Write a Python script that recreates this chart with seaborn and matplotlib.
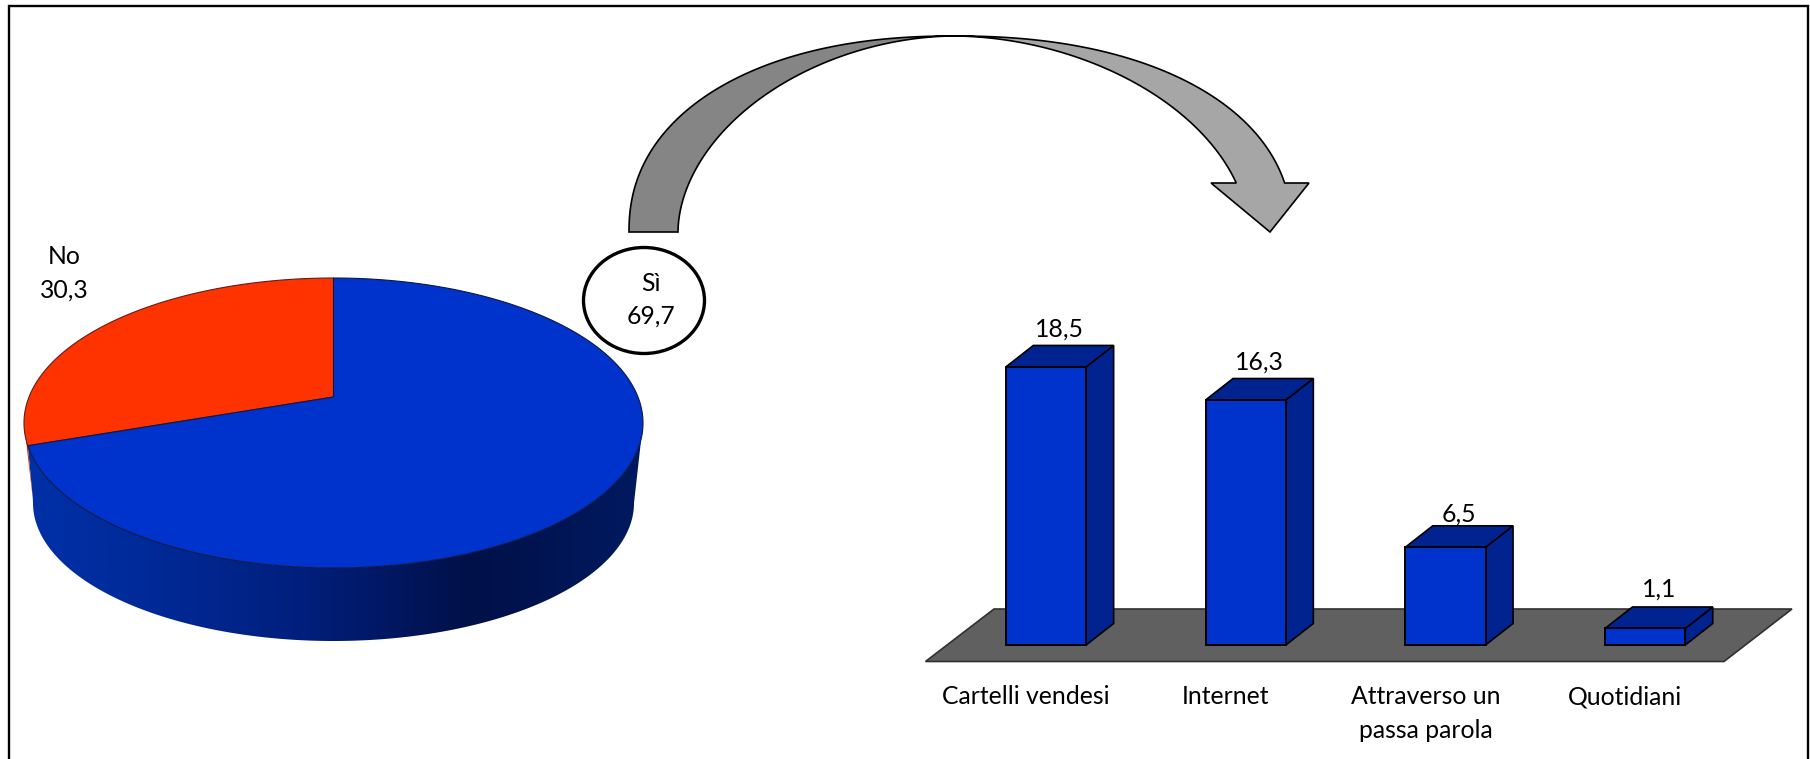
import numpy as np
import pandas as pd
import seaborn as sns
import matplotlib
matplotlib.use("Agg")
import matplotlib.pyplot as plt
from matplotlib.colors import LinearSegmentedColormap
from matplotlib.patches import Polygon, Ellipse
from matplotlib.transforms import ScaledTranslation

# ---- data ----
pie_labels = ["No", "Sì"]
pie_values = [30.3, 69.7]
bar_categories = ["Cartelli vendesi", "Internet", "Attraverso un\npassa parola", "Quotidiani"]
bar_values = [18.5, 16.3, 6.5, 1.1]

# ---- style ----
BLUE, BLUE_DARK, RED = "#0033CC", "#00238F", "#FF3300"
FONT = "Lato"
FS = 17.8
W, H = 1810, 759
label_lift = [38, 38, 33, 39]   # px above the front top edge of each bar

sns.set_theme(style="white")
plt.rcParams["font.family"] = [FONT, "DejaVu Sans"]
fmt = lambda v: f"{v:.1f}".replace(".", ",")

fig = plt.figure(figsize=(W / 100, H / 100), dpi=100, facecolor="white")
base = fig.add_axes([0, 0, 1, 1])
base.set_axis_off()

# ---- frame ----
base.plot([8.5, 8.5, 1807.5, 1807.5], [H + 5, 6, 6, H + 5], color="black", lw=1.7,
          solid_joinstyle="miter", zorder=1)

# ---- 3D pie ----
cx, cy, a, b = 333.5, 423.0, 309.5, 145.0      # top ellipse
cy2, a2, b2 = 503.0, 300.5, 138.0              # bottom ellipse
Y0 = (cy - 397.0) / b                          # perspective shift of the pie centre


def project(theta):
    """theta: angle measured counter-clockwise from 12 o'clock on the true circle."""
    u, v = -np.sin(theta), np.cos(theta)
    d = 1 + v * Y0
    return cx + a * u * np.sqrt(1 - Y0 ** 2) / d, cy - b * (v + Y0) / d


t_no = 2 * np.pi * pie_values[0] / sum(pie_values)
bx, by = project(t_no)
apex = (cx, cy - b * Y0)

# side: gradient clipped to outline
phi_start = np.pi - np.arcsin(np.clip((by - cy) / b, -1, 1))
phi = np.linspace(phi_start, 0, 200)
top_lower = np.c_[cx + a * np.cos(phi), cy + b * np.sin(phi)]
phi2 = np.linspace(0, np.pi, 300)
bot_lower = np.c_[cx + a2 * np.cos(phi2), cy2 + b2 * np.sin(phi2)]
edge_bottom = (bx + 5, by + 53)
side = np.vstack([top_lower, bot_lower, [edge_bottom], [[bx, by]]])
cmap = LinearSegmentedColormap.from_list(
    "side",
    [(0.0, "#0030A8"), (0.2, "#002A98"), (0.45, "#001F7C"), (0.72, "#001048"), (1.0, "#001A60")],
)
im = base.imshow(np.linspace(0, 1, 512)[None, :], extent=(cx - a, cx + a, cy2 + b2 + 2, cy - 10),
                 cmap=cmap, aspect="auto", zorder=2)
clip = Polygon(side, closed=True, transform=base.transData, fc="none", ec="none")
base.add_patch(clip)
im.set_clip_path(clip)

# red sliver on the left of the side wall
phi3 = np.linspace(np.pi, phi_start, 30)
sliver = np.vstack([np.c_[cx + a * np.cos(phi3), cy + b * np.sin(phi3)], [edge_bottom]])
base.add_patch(Polygon(sliver, closed=True, fc="#C02800", ec="none", zorder=2))

# top face wedges
t = np.linspace(0, t_no, 200)
x, y = project(t)
base.add_patch(Polygon(np.vstack([np.c_[x, y], [apex]]), closed=True, fc=RED, ec="#5A2020", lw=0.8, zorder=3))
t = np.linspace(t_no, 2 * np.pi, 400)
x, y = project(t)
base.add_patch(Polygon(np.vstack([np.c_[x, y], [apex]]), closed=True, fc=BLUE, ec="#101840", lw=0.8, zorder=4))

# pie labels
base.text(64, 257, pie_labels[0], ha="center", va="center", fontsize=FS, color="black", zorder=6)
base.text(64, 290.5, fmt(pie_values[0]), ha="center", va="center", fontsize=FS, color="black", zorder=6)
base.add_patch(Ellipse((644, 300.5), 121, 106, fc="white", ec="black", lw=2.4, zorder=5))
base.text(651, 283.5, pie_labels[1], ha="center", va="center", fontsize=FS, color="black", zorder=6)
base.text(651, 316, fmt(pie_values[1]), ha="center", va="center", fontsize=FS, color="black", zorder=6)

# ---- curved arrow (superelliptic arcs) ----
ax0, ay0, ay_top = 954.0, 232.0, 36.0
lh = ay0 - ay_top


def arc(semi_x, n, s):
    c, sn = np.cos(s), np.sin(s)
    return semi_x * np.abs(c) ** (2 / n), ay0 - lh * np.abs(sn) ** (2 / n)


s = np.linspace(0, np.pi / 2, 200)
ox, oy = arc(325, 2.2, s)
ix, iy = arc(276, 1.88, s)
base.add_patch(Polygon(np.vstack([np.c_[ax0 - ox, oy], np.c_[ax0 - ix, iy][::-1]]), closed=True,
                       fc="#858585", ec="black", lw=1.2, zorder=3))
frac = (ay0 - 183) / lh
s_o = np.linspace(np.pi / 2, np.arcsin(frac ** (2.2 / 2)), 200)
s_i = np.linspace(np.pi / 2, np.arcsin(frac ** (1.88 / 2)), 200)
ox, oy = arc(338, 2.2, s_o)
ix, iy = arc(294, 1.88, s_i)
head = [[1309, 183], [1270, 232], [1211, 183]]
base.add_patch(Polygon(np.vstack([np.c_[ax0 + ox, oy], head, np.c_[ax0 + ix, iy][::-1]]), closed=True,
                       fc="#A6A6A6", ec="black", lw=1.2, zorder=3))

# ---- floor ----
base.add_patch(Polygon([[925.5, 661.5], [1724, 661.5], [1792, 609], [994, 609]], closed=True,
                       fc="#606060", ec="#303030", lw=1.2, zorder=2))
base.set_xlim(0, W)
base.set_ylim(H, 0)

# ---- bars ----
slot = 199.7           # px per category
ppu = 15.03            # px per value unit
x0_px, y0_px = 1046.0, 645.0
ymax = 22
ax = fig.add_axes([(x0_px - slot / 2) / W, (H - y0_px) / H, 4 * slot / W, ymax * ppu / H])
ax.patch.set_alpha(0)
df = pd.DataFrame({"cat": bar_categories, "val": bar_values})
sns.barplot(data=df, x="cat", y="val", ax=ax, color=BLUE, saturation=1, width=0.402,
            edgecolor="black", linewidth=1.4, zorder=4)
ax.set_xlim(-0.5, 3.5)
ax.set_ylim(0, ymax)
ax.set_xlabel("")
ax.set_ylabel("")
ax.set_yticks([])
sns.despine(ax=ax, left=True, bottom=True)
ax.tick_params(axis="x", length=0, pad=29, labelsize=FS, colors="black")

ddx, ddy = 27.5 / slot, 21.5 / ppu
for p, lift in zip(list(ax.patches), label_lift):
    l, r, h = p.get_x(), p.get_x() + p.get_width(), p.get_height()
    p.set_clip_on(False)
    ax.add_patch(Polygon([[r, 0], [r + ddx, ddy], [r + ddx, h + ddy], [r, h]], closed=True,
                         fc=BLUE_DARK, ec="black", lw=1.2, zorder=3, clip_on=False))
    ax.add_patch(Polygon([[l, h], [r, h], [r + ddx, h + ddy], [l + ddx, h + ddy]], closed=True,
                         fc=BLUE_DARK, ec="black", lw=1.2, zorder=3, clip_on=False))
    ax.annotate(fmt(h), xy=((l + r) / 2, h), xytext=(13.6 * 0.72, lift * 0.72), textcoords="offset points",
                ha="center", va="center", fontsize=FS, color="black", zorder=6)

shift = ScaledTranslation(-20 / 100, 0, fig.dpi_scale_trans)
for lab in ax.get_xticklabels():
    lab.set_transform(lab.get_transform() + shift)
    lab.set_linespacing(1.55)

fig.savefig("out.png", dpi=100)
